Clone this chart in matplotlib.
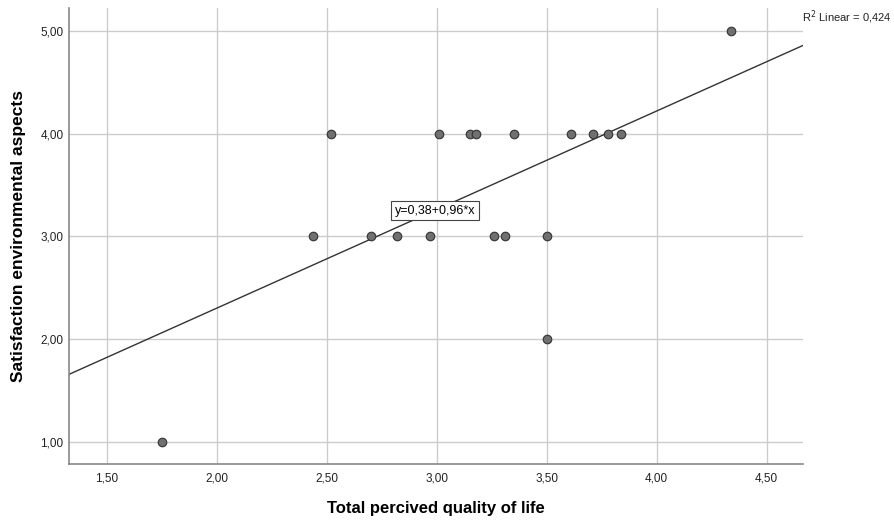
import matplotlib.pyplot as plt
import numpy as np

# data
quality = [1.75, 2.44, 2.70, 2.82, 2.97, 3.26, 3.31, 3.50, 3.50,
           2.52, 3.01, 3.15, 3.18, 3.35, 3.61, 3.71, 3.78, 3.84, 4.34]
satisfaction = [1, 3, 3, 3, 3, 3, 3, 3, 2,
                4, 4, 4, 4, 4, 4, 4, 4, 4, 5]
intercept = 0.38
slope = 0.96
r2 = 0.424
xticks = [1.5, 2.0, 2.5, 3.0, 3.5, 4.0, 4.5]
yticks = [1, 2, 3, 4, 5]

plt.rcParams['font.family'] = ['Liberation Sans', 'DejaVu Sans']

fig = plt.figure(figsize=(8.95, 5.22), dpi=100)
ax = fig.add_axes([0.0771, 0.1111, 0.8201, 0.8736])

xmin, xmax = 1.329, 4.665
ymin, ymax = 0.783, 5.223

ax.set_xlim(xmin, xmax)
ax.set_ylim(ymin, ymax)
ax.set_xticks(xticks)
ax.set_yticks(yticks)
ax.set_xticklabels([f"{t:.2f}".replace('.', ',') for t in xticks])
ax.set_yticklabels([f"{t:.2f}".replace('.', ',') for t in yticks])
ax.tick_params(length=0, labelsize=8.5, colors='#222222')
ax.tick_params(axis='x', pad=6)
ax.tick_params(axis='y', pad=4)
ax.grid(True, color='#cccccc', linewidth=1)
ax.set_axisbelow(True)
for s in ['top', 'right']:
    ax.spines[s].set_visible(False)
for s in ['left', 'bottom']:
    ax.spines[s].set_color('#888888')
    ax.spines[s].set_linewidth(1.2)

# fit line
xs = np.array([xmin, xmax])
ax.plot(xs, intercept + slope * xs, color='#333333', linewidth=1, zorder=2)

ax.scatter(quality, satisfaction, s=38, color='#707070', edgecolor='#333333',
           linewidth=0.8, zorder=3)

ax.text(2.993, 3.249, "y=0,38+0,96*x", fontsize=9, ha='center', va='center',
        bbox=dict(boxstyle='square,pad=0.3', facecolor='white', edgecolor='#444444',
                  linewidth=0.8), zorder=4)

fig.text(802 / 895, 1 - 17 / 522, "R$^2$ Linear = 0,424", fontsize=8,
         ha='left', va='center', color='#222222')

ax.set_xlabel("Total percived quality of life", fontsize=12, fontweight='bold')
ax.set_ylabel("Satisfaction environmental aspects", fontsize=12.5, fontweight='bold')
ax.xaxis.set_label_coords(0.5, (464 - 508) / 456)
ax.yaxis.set_label_coords(-(69 - 18) / 734, 0.5)
ax.xaxis.label.set_va('center')
ax.yaxis.label.set_va('center')

fig.savefig("out.png", dpi=100)
